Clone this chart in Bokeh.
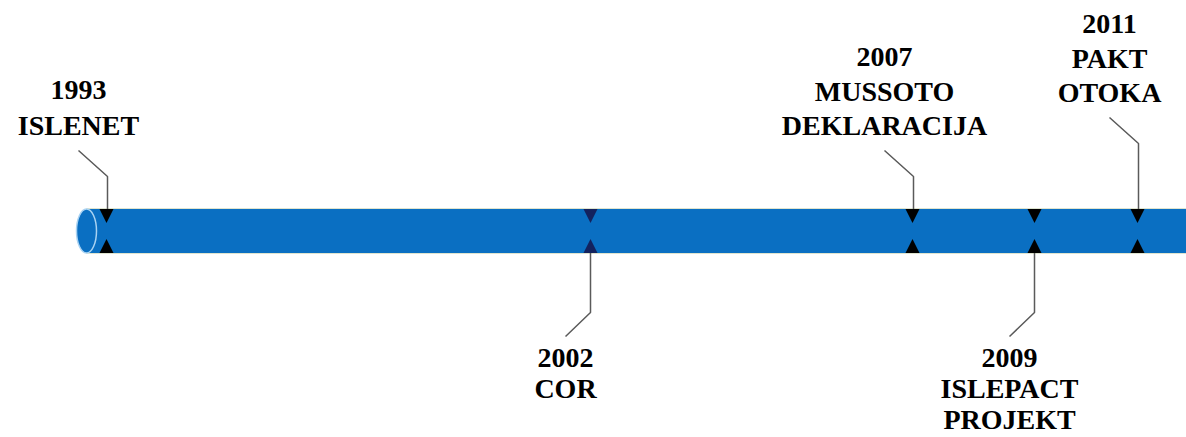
from bokeh.plotting import figure
from bokeh.models import Range1d, ColumnDataSource
from bokeh.core.properties import value
from bokeh.embed import file_html
from bokeh.resources import INLINE

# ---- data -------------------------------------------------------------
years = ["1993", "2002", "2007", "2009", "2011"]
event_names = [["ISLENET"], ["COR"], ["MUSSOTO", "DEKLARACIJA"],
               ["ISLEPACT", "PROJEKT"], ["PAKT", "OTOKA"]]
# position of each event along the drawn timeline (timeline units)
timeline_pos = [106, 590, 912, 1034, 1137]
label_side = ["above", "below", "above", "below", "above"]
label_tier = [0, 0, 0, 0, 1]

# ---- style ------------------------------------------------------------
BAR_BLUE = "#0a6fc2"
RIM_BLUE = "#a8d2f2"
LEADER = "#5a5a5a"
tri_colors = ["#000000", "#13225e", "#000000", "#000000", "#000000"]
FONT = value("Liberation Serif")
FS = "28px"
STEP_UP = 34.5
STEP_DOWN = 31.0
BAR_TOP, BAR_BOT = 208.5, 252.5
BAR_LEFT = 86
W, H = 1186, 437

p = figure(width=W, height=H, x_range=Range1d(0, W), y_range=Range1d(H, 0),
           output_backend="svg", toolbar_location=None, min_border=0,
           x_axis_type=None, y_axis_type=None)
p.grid.visible = False
p.outline_line_color = None
p.background_fill_color = "white"
p.border_fill_color = "white"

# timeline bar
p.quad(left=BAR_LEFT, right=W + 10, top=BAR_TOP, bottom=BAR_BOT,
       fill_color=BAR_BLUE, line_color=None)
p.segment(x0=[BAR_LEFT, BAR_LEFT], x1=[W + 10, W + 10], y0=[BAR_TOP - 0.5, BAR_BOT + 0.5],
          y1=[BAR_TOP - 0.5, BAR_BOT + 0.5], line_color="#dfe4cf", line_width=1)
p.ellipse(x=BAR_LEFT, y=(BAR_TOP + BAR_BOT) / 2, width=20, height=BAR_BOT - BAR_TOP,
          fill_color=BAR_BLUE, line_color=RIM_BLUE, line_width=1.5)

# triangles (markers on both sides of the bar)
txs, tys, tcs = [], [], []
for x, c in zip(timeline_pos, tri_colors):
    txs.append([x - 7, x + 7, x]); tys.append([BAR_TOP, BAR_TOP, BAR_TOP + 14]); tcs.append(c)
    txs.append([x - 7, x + 7, x]); tys.append([BAR_BOT, BAR_BOT, BAR_BOT - 14]); tcs.append(c)
p.patches(xs=txs, ys=tys, fill_color=tcs, line_color=None)

# leaders and labels (y = vertical centre of each text line)
lxs, lys = [], []
tx, ty, tt = [], [], []
for x, yr, names, side, tier in zip(timeline_pos, years, event_names, label_side, label_tier):
    lines = [yr] + names
    if side == "above":
        cx = x - 28
        last = 125 - 33 * tier
        step = STEP_UP + (1.5 if len(lines) == 2 else 0)
        start = last + 25
        lxs.append([cx, x + 1, x + 1]); lys.append([start, start + 26, BAR_TOP])
        for i, t in enumerate(lines):
            tx.append(cx); ty.append(last - (len(lines) - 1 - i) * step); tt.append(t)
    else:
        cx = x - 25
        lxs.append([x, x, cx]); lys.append([BAR_BOT, 312, 336])
        for i, t in enumerate(lines):
            tx.append(cx); ty.append(357 + i * STEP_DOWN); tt.append(t)

p.multi_line(xs=lxs, ys=lys, line_color=LEADER, line_width=1.5)
src = ColumnDataSource(dict(x=tx, y=ty, text=tt))
p.text(x="x", y="y", text="text", source=src, text_font=FONT, text_font_size=FS,
       text_font_style="bold", text_align="center", text_baseline="middle",
       text_color="#000000")

open("out.html", "w").write(file_html(p, INLINE))
